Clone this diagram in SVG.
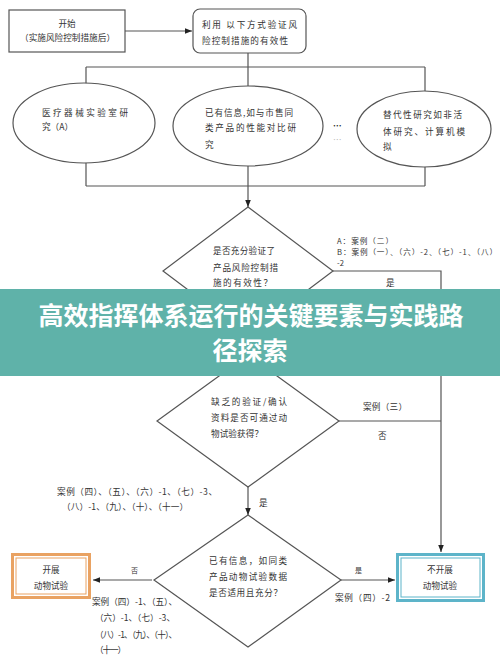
<svg xmlns="http://www.w3.org/2000/svg" width="500" height="666" viewBox="0 0 500 666">
<style>
.ln{fill:none;stroke:#555;stroke-width:1.2}
.sh{fill:#fff;stroke:#555;stroke-width:1.2}
.t{font-family:"Noto Sans CJK SC","Noto Sans",sans-serif;font-size:8.6px;fill:#333}
.s{font-size:7.6px}
.tm{text-anchor:middle}
.ttl{font-family:"Noto Sans CJK SC","Noto Sans",sans-serif;font-size:25px;font-weight:700;fill:#fff;text-anchor:middle}
</style>
<defs>
<marker id="ar" viewBox="0 0 10 10" refX="10" refY="5" markerWidth="7" markerHeight="7" orient="auto" markerUnits="userSpaceOnUse">
<path d="M0,1 L10,5 L0,9 z" fill="#222"/>
</marker>
</defs>
<rect width="500" height="666" fill="#fff"/>
<g id="connectors">
<path class="ln" d="M125,31 H192" marker-end="url(#ar)"/>
<path class="ln" d="M248,53 V67 M86,67 H425 M86,67 V84 M248,67 V86 M425,67 V91"/>
<path class="ln" d="M86,163 V186 M248,166 V186 M425,167 V186 M86,186 H425"/>
<path class="ln" d="M248,186 V207" marker-end="url(#ar)"/>
<path class="ln" d="M333,271 H441 V552" marker-end="url(#ar)"/>
<path class="ln" d="M248,335 V355" marker-end="url(#ar)"/>
<path class="ln" d="M339,421 H441"/>
<path class="ln" d="M248,487 V515" marker-end="url(#ar)"/>
<path class="ln" d="M152,580 H93" marker-end="url(#ar)"/>
<path class="ln" d="M341,580 H395" marker-end="url(#ar)"/>
</g>
<g id="start">
<rect class="sh" x="9" y="10" width="116" height="42"/>
<text class="t tm" x="67" y="27">开始</text>
<text class="t" x="20" y="41" textLength="95" lengthAdjust="spacing">（实施风险控制措施后）</text>
</g>
<g id="verify">
<rect class="sh" x="193" y="9" width="113" height="44" rx="7"/>
<text class="t" x="202" y="28" textLength="95" lengthAdjust="spacing">利用 以下方式验证风</text>
<text class="t" x="202" y="44" textLength="86" lengthAdjust="spacing">险控制措施的有效性</text>
</g>
<g id="lab">
<ellipse class="sh" cx="84" cy="123" rx="71" ry="40"/>
<text class="t" x="42" y="116" textLength="86" lengthAdjust="spacing">医疗器械实验室研</text>
<text class="t" x="42" y="130" textLength="31" lengthAdjust="spacing">究（A）</text>
</g>
<g id="info">
<ellipse class="sh" cx="248" cy="126" rx="75" ry="40"/>
<text class="t" x="205" y="116" textLength="88" lengthAdjust="spacing">已有信息,如与市售同</text>
<text class="t" x="205" y="131" textLength="91" lengthAdjust="spacing">类产品的性能对比研</text>
<text class="t" x="205" y="148">究</text>
</g>
<g id="dots">
<text class="t" x="333" y="129" style="font-weight:700;fill:#222">…</text>
<text class="t" x="333" y="143" style="fill:#bbb">…</text>
</g>
<g id="alt">
<ellipse class="sh" cx="424" cy="129" rx="67" ry="38"/>
<text class="t" x="383" y="118" textLength="79" lengthAdjust="spacing">替代性研究如非活</text>
<text class="t" x="383" y="135" textLength="82" lengthAdjust="spacing">体研究、计算机模</text>
<text class="t" x="383" y="150">拟</text>
</g>
<g id="decision1">
<polygon class="sh" points="248,207 333,271 248,335 163,271"/>
<text class="t" x="213" y="254" textLength="62" lengthAdjust="spacing">是否充分验证了</text>
<text class="t" x="213" y="271" textLength="65" lengthAdjust="spacing">产品风险控制措</text>
<text class="t" x="213" y="286" textLength="59" lengthAdjust="spacing">施的有效性？</text>
</g>
<g id="labels1">
<text class="t s" x="337" y="244" textLength="56" lengthAdjust="spacing">A：案例（二）</text>
<text class="t s" x="337" y="255" textLength="160" lengthAdjust="spacing">B：案例（一）、（六）-2、（七）-1、（八）</text>
<text class="t s" x="337" y="266">-2</text>
<text class="t" x="386" y="286">是</text>
<text class="t" x="54" y="344" textLength="161" lengthAdjust="spacing">案例（三）、（四）、（五）、（六）-1、（七）</text>
<text class="t" x="54" y="359" textLength="146" lengthAdjust="spacing">-3、（八）-1、（九）、（十）、（十一）</text>
</g>
<g id="decision2">
<polygon class="sh" points="248,355 339,421 248,487 157,421"/>
<text class="t" x="211" y="405" textLength="76" lengthAdjust="spacing">缺乏的验证/确认</text>
<text class="t" x="211" y="421" textLength="76" lengthAdjust="spacing">资料是否可通过动</text>
<text class="t" x="211" y="437" textLength="52" lengthAdjust="spacing">物试验获得？</text>
</g>
<g id="labels2">
<text class="t" x="363" y="410" textLength="44" lengthAdjust="spacing">案例（三）</text>
<text class="t" x="378" y="439">否</text>
<text class="t" x="259" y="506">是</text>
<text class="t" x="57" y="495" textLength="160" lengthAdjust="spacing">案例（四）、（五）、（六）-1、（七）-3、</text>
<text class="t" x="62" y="510" textLength="126" lengthAdjust="spacing">（八）-1、（九）、（十）、（十一）</text>
</g>
<g id="decision3">
<polygon class="sh" points="248,515 341,580 248,647 154,580"/>
<text class="t" x="209" y="564" textLength="78" lengthAdjust="spacing">已有信息，如同类</text>
<text class="t" x="209" y="580" textLength="78" lengthAdjust="spacing">产品动物试验数据</text>
<text class="t" x="209" y="596" textLength="73" lengthAdjust="spacing">是否适用且充分？</text>
</g>
<g id="labels3">
<text class="t" x="131" y="573" style="font-size:7px">否</text>
<text class="t" x="355" y="573" style="font-size:7px">是</text>
<text class="t" x="92" y="605" textLength="85" lengthAdjust="spacing">案例（四）-1、（五）、</text>
<text class="t" x="95" y="621" textLength="80" lengthAdjust="spacing">（六）-1、（七）-3、</text>
<text class="t" x="95" y="638" textLength="82" lengthAdjust="spacing">（八）-1、（九）、（十）、</text>
<text class="t" x="95" y="653" textLength="31" lengthAdjust="spacing">（十一）</text>
<text class="t" x="335" y="601" textLength="55" lengthAdjust="spacing">案例（四）-2</text>
</g>
<g id="do-test">
<rect x="12.5" y="554.5" width="77" height="43" fill="#fff" stroke="#e9a262" stroke-width="3"/>
<rect x="16" y="558" width="70" height="36" fill="none" stroke="#e9a262" stroke-width="1"/>
<text class="t tm" x="51" y="573">开展</text>
<text class="t tm" x="51" y="589">动物试验</text>
</g>
<g id="no-test">
<rect x="397.5" y="554.5" width="86" height="46" fill="#fff" stroke="#5db4c9" stroke-width="3"/>
<rect x="401" y="558" width="79" height="39" fill="none" stroke="#5db4c9" stroke-width="1"/>
<text class="t tm" x="440" y="573">不开展</text>
<text class="t tm" x="440" y="589">动物试验</text>
</g>
<g id="banner">
<rect x="0" y="289" width="500" height="87" fill="#5fb2a9"/>
<text class="ttl" x="251" y="325">高效指挥体系运行的关键要素与实践路</text>
<text class="ttl" x="250" y="360">径探索</text>
</g>
</svg>
